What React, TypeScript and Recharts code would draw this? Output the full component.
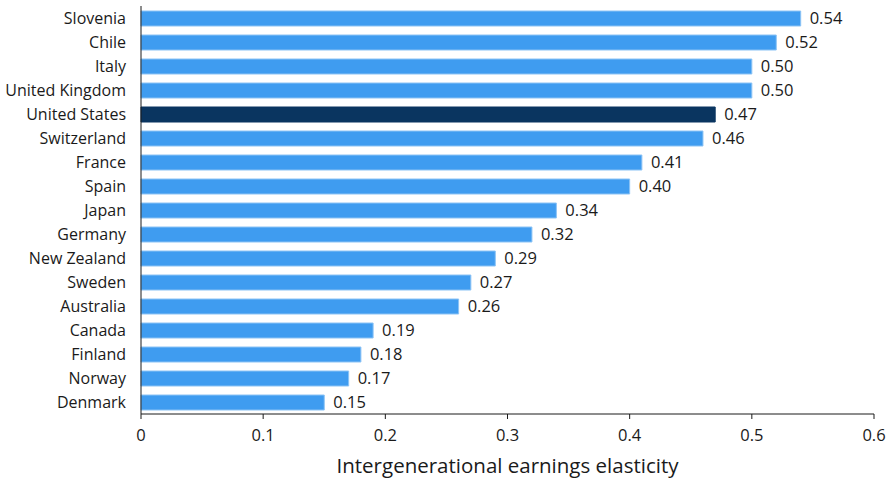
import { BarChart, Bar, XAxis, YAxis, Cell, LabelList } from 'recharts';

const countries = [
  'Slovenia', 'Chile', 'Italy', 'United Kingdom', 'United States', 'Switzerland',
  'France', 'Spain', 'Japan', 'Germany', 'New Zealand', 'Sweden', 'Australia',
  'Canada', 'Finland', 'Norway', 'Denmark',
];
const elasticity = [
  0.54, 0.52, 0.5, 0.5, 0.47, 0.46, 0.41, 0.4, 0.34, 0.32, 0.29, 0.27, 0.26,
  0.19, 0.18, 0.17, 0.15,
];
const xTicks = [0, 0.1, 0.2, 0.3, 0.4, 0.5, 0.6];
const highlight = 'United States';

const FONT = '"Open Sans", "DejaVu Sans", sans-serif';

export default function App() {
  const chartData = countries.map((name, i) => ({ name, value: elasticity[i] }));

  return (
    <div style={{ position: 'absolute', left: 0, top: 0, background: '#fff' }}>
      <BarChart
        width={891}
        height={480}
        data={chartData}
        layout="vertical"
        margin={{ top: 6, right: 17, left: 0, bottom: 0 }}
        barSize={15}
      >
        <XAxis
          type="number"
          domain={[0, 0.6]}
          ticks={xTicks}
          tickFormatter={(v: number) => String(v)}
          height={66}
          stroke="#1a1a1a"
          tickSize={5}
          tickMargin={10}
          tick={{ fontSize: 16.5, fill: '#1a1a1a', fontFamily: FONT }}
          label={{
            value: 'Intergenerational earnings elasticity',
            position: 'insideBottom',
            offset: 7,
            fontSize: 20.5,
            fill: '#1a1a1a',
            fontFamily: FONT,
          }}
        />
        <YAxis
          type="category"
          dataKey="name"
          width={141}
          stroke="#1a1a1a"
          tickLine={false}
          tickMargin={9}
          interval={0}
          tick={{ fontSize: 16, fill: '#1a1a1a', fontFamily: FONT }}
        />
        <Bar dataKey="value" isAnimationActive={false} strokeWidth={1}>
          {chartData.map((d) => (
            <Cell
              key={d.name}
              fill={d.name === highlight ? '#0a3560' : '#3f9cf0'}
              stroke={d.name === highlight ? '#0a3560' : '#8cc3f5'}
            />
          ))}
          <LabelList
            dataKey="value"
            position="right"
            offset={9}
            formatter={(v: number) => v.toFixed(2)}
            style={{ fontSize: 16.5, fill: '#1a1a1a', fontFamily: FONT }}
          />
        </Bar>
      </BarChart>
    </div>
  );
}
